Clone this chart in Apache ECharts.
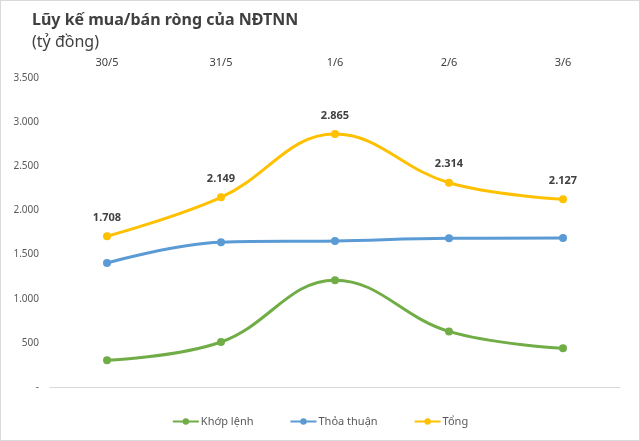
<!DOCTYPE html>
<html><head><meta charset="utf-8">
<script src="https://cdn.jsdelivr.net/npm/echarts@6/dist/echarts.min.js"></script>
<style>
html,body{margin:0;padding:0;background:#fff;}
#c{width:638px;height:439px;border:1px solid #d9d9d9;}
</style></head>
<body><div id="c"></div>
<script>
var categories = ['30/5','31/5','1/6','2/6','3/6'];
var khopLenh = [303, 510, 1210, 630, 440];
var thoaThuan = [1405, 1639, 1655, 1684, 1687];
var tong = [1708, 2149, 2865, 2314, 2127];
var yTicks = [0, 500, 1000, 1500, 2000, 2500, 3000, 3500];
var seriesNames = ['Khớp lệnh', 'Thỏa thuận', 'Tổng'];

var FONT = 'Noto Sans';
function fmt(v){
  if (v === 0) return '-';
  return String(v).replace(/\B(?=(\d{3})+(?!\d))/g, '.');
}
var chart = echarts.init(document.getElementById('c'));
function mk(name, data, color, labels){
  return {
    name: name, type: 'line', smooth: 0.4, data: data,
    symbol: 'circle', symbolSize: 8,
    lineStyle: {color: color, width: 3},
    itemStyle: {color: color},
    label: labels ? {show: true, position: 'top', distance: 9, formatter: function(p){return fmt(p.value);},
      fontFamily: FONT, fontSize: 11, fontWeight: 'bold', color: '#404040'} : {show:false},
    emphasis: {disabled: true}
  };
}
chart.setOption({
  animation: false,
  textStyle: {fontFamily: FONT},
  title: [
    {text: 'Lũy kế mua/bán ròng của NĐTNN', left: 26, top: 6,
     textStyle: {fontFamily: FONT, fontSize: 16, fontWeight: 'bold', color: '#404040'}},
    {text: '(tỷ đồng)', left: 26, top: 28,
     textStyle: {fontFamily: FONT, fontSize: 16, fontWeight: 'normal', color: '#404040'}}
  ],
  legend: {
    bottom: 8, left: 'center', itemGap: 36, itemWidth: 26, itemHeight: 8,
    data: seriesNames,
    textStyle: {fontFamily: FONT, fontSize: 11, color: '#595959', padding: [0,0,0,-3]}
  },
  grid: {left: 49, right: 19, top: 77, bottom: 53},
  xAxis: [
    {type: 'category', data: categories, position: 'top', boundaryGap: true,
     axisLine: {show: false}, axisTick: {show: false},
     axisLabel: {fontFamily: FONT, fontSize: 11, color: '#404040', margin: 10}},
    {type: 'category', data: categories, position: 'bottom', boundaryGap: true,
     axisLine: {show: true, lineStyle: {color: '#d9d9d9', width: 1}}, axisTick: {show: false},
     axisLabel: {show: false}}
  ],
  yAxis: {
    type: 'value', min: yTicks[0], max: yTicks[yTicks.length-1], interval: 500,
    axisLine: {show: false}, axisTick: {show: false}, splitLine: {show: false},
    axisLabel: {fontFamily: FONT, fontSize: 10, color: '#595959', margin: 11, formatter: fmt}
  },
  series: [
    mk(seriesNames[0], khopLenh, '#70AD47', false),
    mk(seriesNames[1], thoaThuan, '#5B9BD5', false),
    mk(seriesNames[2], tong, '#FFC000', true)
  ]
});
</script></body></html>
